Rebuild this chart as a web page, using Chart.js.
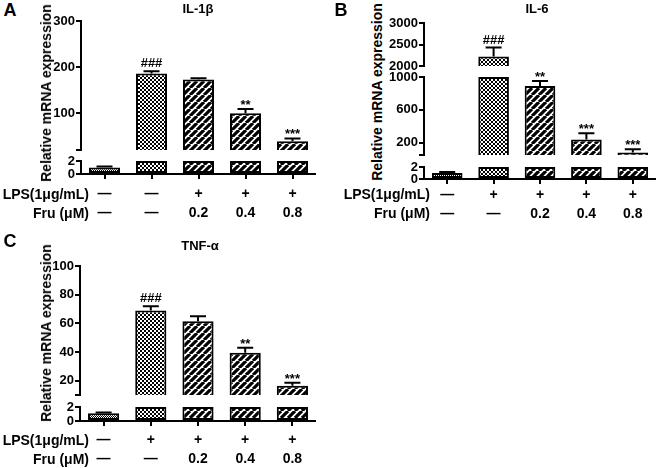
<!DOCTYPE html>
<html lang="en">
<head>
  <meta charset="UTF-8" />
  <title>Relative mRNA expression: IL-1β, IL-6, TNF-α</title>
  <script src="https://cdn.jsdelivr.net/npm/chart.js"></script>
  <style>
    body {
      margin: 0;
      background: #fff;
      font-family: Arial, "Liberation Sans", sans-serif;
    }
    #figure {
      position: relative;
      width: 659px;
      height: 468px;
      overflow: hidden;
    }
    canvas {
      position: absolute;
    }
    .txt {
      position: absolute;
      font-weight: bold;
      color: #000;
      line-height: 1;
      white-space: nowrap;
    }
  </style>
</head>
<body>
  <div id="figure"></div>

  <script>
    // Row labels under every panel
    const fruRow = ['—', '—', '0.2', '0.4', '0.8'];
    const lpsRowA = ['—', '—', '+', '+', '+'];
    const lpsRowBC = ['—', '+', '+', '+', '+'];

    // A: IL-1β
    const il1bMean = [1.0, 186, 173, 100, 39];
    const il1bErr = [0.15, 5, 3, 9, 6];
    const il1bMarks = ['', '###', '', '**', '***'];

    // B: IL-6
    const il6Mean = [1.0, 2220, 890, 240, 80];
    const il6Err = [0.15, 210, 60, 75, 40];
    const il6Marks = ['', '###', '**', '***', '***'];

    // C: TNF-α
    const tnfMean = [1.1, 69, 61.5, 39.5, 16.5];
    const tnfErr = [0.12, 3, 3.5, 3.5, 2];
    const tnfMarks = ['', '###', '', '**', '***'];

    // y tick labels of each axis segment
    const lowerTicks = [0, 2];
    const il1bTicks = [100, 200, 300];
    const il6TopTicks = [2000, 2500, 3000];
    const il6MidTicks = [200, 600, 1000];
    const tnfTicks = [20, 40, 60, 80, 100];

    const FONT = 'Arial, "Liberation Sans", sans-serif';
    Chart.defaults.font.family = FONT;
    Chart.defaults.color = '#000';

    const fig = document.getElementById('figure');

    // broken axes: each segment is its own chart, stacked on the page
    const panels = [
      {
        letter: 'A', title: 'IL-1β', lps: lpsRowA,
        mean: il1bMean, err: il1bErr, marks: il1bMarks,
        left: 50, axisX: 81, right: 316, labelPad: 5.5,
        segs: [
          { min: 20, max: 300, ticks: il1bTicks, top: 21, bottom: 149.5 },
          { min: 0, max: 2, ticks: lowerTicks, top: 161, bottom: 174 }
        ],
        letterAt: [10, 10], titleAt: [198, 8], yTitleAt: [46, 93], rowsX: 89, rowsY: [194, 213]
      },
      {
        letter: 'B', title: 'IL-6', lps: lpsRowBC,
        mean: il6Mean, err: il6Err, marks: il6Marks,
        left: 385, axisX: 424, right: 656, labelPad: 1.5,
        segs: [
          { min: 2000, max: 3000, ticks: il6TopTicks, top: 23.3, bottom: 66 },
          { min: 50, max: 1000, ticks: il6MidTicks, top: 77.3, bottom: 155 },
          { min: 0, max: 2, ticks: lowerTicks, top: 166.7, bottom: 178.3 }
        ],
        letterAt: [341, 10], titleAt: [537, 8], yTitleAt: [377, 92], rowsX: 430, rowsY: [194, 213]
      },
      {
        letter: 'C', title: 'TNF-α', lps: lpsRowBC,
        mean: tnfMean, err: tnfErr, marks: tnfMarks,
        left: 50, axisX: 80, right: 316, labelPad: 4.5,
        segs: [
          { min: 10, max: 100, ticks: tnfTicks, top: 265.7, bottom: 394.3 },
          { min: 0, max: 2, ticks: lowerTicks, top: 406.7, bottom: 421 }
        ],
        letterAt: [10, 241], titleAt: [200, 245], yTitleAt: [46, 333], rowsX: 89, rowsY: [440, 459]
      }
    ];

    function makeFills(ctx) {
      const tile = (size, draw) => {
        const c = document.createElement('canvas');
        c.width = size;
        c.height = size;
        const t = c.getContext('2d');
        t.fillStyle = '#fff';
        t.fillRect(0, 0, size, size);
        t.fillStyle = '#000';
        t.strokeStyle = '#000';
        draw(t, size);
        return ctx.createPattern(c, 'repeat');
      };
      const dots = tile(2, (t) => { t.fillRect(0, 0, 1, 1); t.fillRect(1, 1, 1, 1); });
      const checker = tile(4, (t) => { t.fillRect(0, 0, 2, 2); t.fillRect(2, 2, 2, 2); });
      const stripes = tile(7, (t, s) => {
        t.lineWidth = 3.2;
        t.beginPath();
        for (let k = -1; k <= 1; k++) {
          t.moveTo(k * s, s);
          t.lineTo(k * s + s, 0);
        }
        t.stroke();
      });
      return [dots, checker, stripes, stripes, stripes];
    }

    // error bars (upper side only) and significance marks
    function errorBars(panel, seg) {
      return {
        id: 'errorBars',
        afterDatasetsDraw(chart) {
          const { ctx } = chart;
          const x = chart.scales.x;
          const y = chart.scales.y;
          ctx.save();
          ctx.strokeStyle = '#000';
          ctx.fillStyle = '#000';
          ctx.lineWidth = 2;
          panel.mean.forEach((v, i) => {
            if (v < seg.min || v > seg.max) return;
            const cx = x.getPixelForValue(i);
            const y0 = y.getPixelForValue(v);
            const y1 = y.getPixelForValue(v + panel.err[i]);
            ctx.beginPath();
            ctx.moveTo(cx, y0);
            ctx.lineTo(cx, y1);
            ctx.moveTo(cx - 8, y1);
            ctx.lineTo(cx + 8, y1);
            ctx.stroke();
            const mark = panel.marks[i];
            if (mark) {
              ctx.font = 'bold 13px ' + FONT;
              ctx.textAlign = 'center';
              ctx.textBaseline = 'alphabetic';
              ctx.fillText(mark, cx, y1 - (mark[0] === '#' ? 4 : 0));
            }
          });
          ctx.restore();
        }
      };
    }

    function segmentChart(panel, seg, isLast) {
      const padTop = 10;
      const padBottom = isLast ? 0 : 10;
      const xAxisH = isLast ? 50 : 0;
      const width = panel.right - panel.left;
      const height = Math.round(seg.bottom - seg.top + padTop + padBottom + xAxisH);

      const canvas = document.createElement('canvas');
      canvas.width = width;
      canvas.height = height;
      canvas.style.left = panel.left + 'px';
      canvas.style.top = (seg.top - padTop) + 'px';
      fig.appendChild(canvas);
      const ctx = canvas.getContext('2d');

      const tickValues = seg.ticks.includes(seg.min) ? seg.ticks : [seg.min, ...seg.ticks];

      return new Chart(ctx, {
        type: 'bar',
        data: {
          labels: panel.lps.map((l, i) => [l, fruRow[i]]),
          datasets: [{
            data: panel.mean.map(v => (v >= seg.min ? Math.min(v, seg.max) : null)),
            backgroundColor: makeFills(ctx),
            borderColor: '#000',
            borderWidth: 2,
            borderSkipped: false,
            barPercentage: 0.66,
            categoryPercentage: 1
          }]
        },
        options: {
          responsive: false,
          animation: false,
          layout: { padding: { top: padTop, bottom: padBottom, left: 0, right: 0 } },
          plugins: {
            legend: { display: false },
            tooltip: { enabled: false }
          },
          scales: {
            x: {
              display: isLast,
              offset: true,
              grid: {
                offset: false,
                drawOnChartArea: false,
                color: '#000',
                lineWidth: 2,
                tickLength: 5
              },
              border: { color: '#000', width: 2 },
              ticks: {
                font: { size: 14, weight: 'bold', lineHeight: '19px' },
                padding: panel.labelPad,
                maxRotation: 0,
                autoSkip: false
              },
              afterFit: (s) => { s.height = xAxisH; }
            },
            y: {
              min: seg.min,
              max: seg.max,
              grid: {
                drawOnChartArea: false,
                color: '#000',
                lineWidth: 2,
                tickLength: 5
              },
              border: { color: '#000', width: 2 },
              ticks: {
                font: { size: 13, weight: 'bold' },
                padding: 1,
                autoSkip: false,
                callback: (v) => (seg.ticks.includes(v) ? v : '')
              },
              afterBuildTicks: (s) => { s.ticks = tickValues.map(v => ({ value: v })); },
              afterFit: (s) => { s.width = panel.axisX - panel.left; }
            }
          }
        },
        plugins: [errorBars(panel, seg)]
      });
    }

    function addText(text, x, y, size, shift, rotate) {
      const d = document.createElement('div');
      d.className = 'txt';
      d.textContent = text;
      d.style.fontSize = size + 'px';
      d.style.left = x + 'px';
      d.style.top = y + 'px';
      d.style.transform = 'translate(' + shift + ', -50%)' + (rotate ? ' rotate(-90deg)' : '');
      fig.appendChild(d);
    }

    panels.forEach((p) => {
      p.segs.forEach((seg, k) => segmentChart(p, seg, k === p.segs.length - 1));
      addText(p.letter, p.letterAt[0], p.letterAt[1], 18, '-50%');
      addText(p.title, p.titleAt[0], p.titleAt[1], 13, '-50%');
      addText('Relative mRNA expression', p.yTitleAt[0], p.yTitleAt[1], 14, '-50%', true);
      addText('LPS(1μg/mL)', p.rowsX, p.rowsY[0], 14, '-100%');
      addText('Fru (μM)', p.rowsX, p.rowsY[1], 14, '-100%');
    });
  </script>
</body>
</html>
